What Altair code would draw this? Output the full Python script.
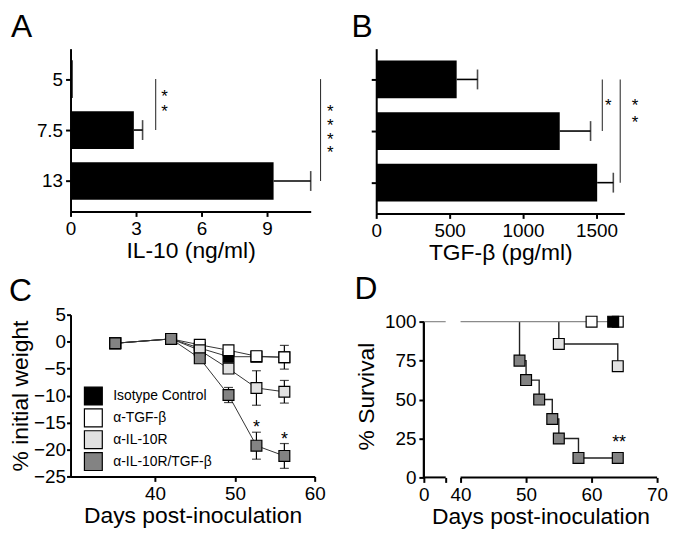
import json
import altair as alt
import pandas as pd

FONT = "Liberation Sans"

# ---------------- Panel A : IL-10 ----------------
A_GROUPS = ["5", "7.5", "13"]
A_VALUES = [0.1, 2.9, 9.3]
A_ERRORS = [0.0, 0.4, 1.7]
A_SIG_X = [3.9, 11.45]
A_SIG_FROM = [0, 0]
A_SIG_TO = [1, 2]
A_STAR_X = [4.3, 4.3, 11.9, 11.9, 11.9, 11.9]
A_STAR_Y = [0.25, 0.54, 0.55, 0.82, 1.09, 1.36]

# ---------------- Panel B : TGF-beta ----------------
B_VALUES = [548, 1250, 1505]
B_ERRORS = [142, 210, 110]
B_SIG_X = [1540, 1662]
B_SIG_FROM = [0, 0]
B_SIG_TO = [1, 2]
B_STAR_X = [1580, 1763, 1763]
B_STAR_Y = [0.42, 0.42, 0.75]

# ---------------- Panel C : weight ----------------
SERIES = ["Isotype Control", "α-TGF-β", "α-IL-10R", "α-IL-10R/TGF-β"]
COLORS = ["#000000", "#ffffff", "#e1e1e1", "#838383"]
C_DAYS = [35, 42, 45.6, 49.2, 52.7, 56.2]
C_ISO = [-0.3, 0.5, -1.2, -2.8, -2.8, -2.9]
C_TGF = [-0.3, 0.5, -0.6, -1.6, -2.7, -2.9]
C_IL10R = [-0.3, 0.5, -1.6, -5.0, -8.6, -9.3]
C_BOTH = [-0.3, 0.5, -3.1, -9.9, -19.3, -21.2]
C_ISO_ERR = [0, 0, 0, 0, 0, 0]
C_TGF_ERR = [0, 0, 0, 0.5, 0.6, 2.2]
C_IL10R_ERR = [0, 0, 0, 0.8, 3.2, 2.1]
C_BOTH_ERR = [0, 0, 0.5, 1.4, 2.5, 2.3]
C_STAR_DAYS = [52.7, 56.2]
C_STAR_Y = [-15.1, -17.3]

# ---------------- Panel D : survival ----------------
D_ISO_DAYS, D_ISO_SURV = [63.3], [100]
D_TGF_DAYS, D_TGF_SURV = [60, 64], [100, 100]
D_IL10R_DAYS, D_IL10R_SURV = [55, 64], [85.7, 71.4]
D_BOTH_DAYS = [49, 50, 52, 54, 55, 58, 64]
D_BOTH_SURV = [75, 62.5, 50, 37.5, 25, 12.5, 12.5]
D_BREAK_DOMAIN = [0, 24, 40, 70]      # broken axis: 0..24 | 40..70
D_BREAK_RANGE = [0, 22, 37, 235]
D_AXIS_SEGMENTS = [(0, 24), (40, 70)]
D_TOP_SEGMENTS = [(0, 24), (40, 64)]
D_Y_MAX = 104.5
D_STAR_X, D_STAR_Y, D_STAR = [64.2], [25.5], ["**"]


def panel_title(letter, dx, offset):
    return alt.TitleParams(text=letter, anchor="start", frame="group", dx=dx,
                           offset=offset, fontSize=32, font=FONT,
                           fontWeight="normal", baseline="alphabetic", color="black")


def bar_panel(values, errors, sig_x, sig_from, sig_to, star_x, star_y,
              xdomain, xticks, xtitle, ylabels, width, height, letter, dx, offset):
    df = pd.DataFrame({"idx": list(range(len(values))), "value": values,
                       "hi": [v + e for v, e in zip(values, errors)]})
    sig = pd.DataFrame({"x": sig_x, "y0": sig_from, "y1": sig_to})
    st = pd.DataFrame({"x": star_x, "y": star_y, "t": ["*"] * len(star_x)})
    yaxis = alt.Axis(values=list(range(len(values))), title=None,
                     labels=ylabels is not None, labelOverlap=False,
                     labelExpr=(json.dumps(ylabels) + "[datum.value]") if ylabels else "datum.label")
    xaxis = alt.Axis(values=xticks, title=xtitle, format="d", labelOverlap=False)
    xs = alt.Scale(domain=xdomain, nice=False)
    ys = alt.Scale(domain=[-0.5, len(values) - 0.5], reverse=True, nice=False, zero=False)

    def X(f):
        return alt.X(f, scale=xs, axis=xaxis)

    def Y(f):
        return alt.Y(f, scale=ys, axis=yaxis)

    bars = alt.Chart(df).mark_bar(orient="horizontal", size=38, color="black").encode(
        x=X("value:Q"), y=Y("idx:Q"))
    base_err = alt.Chart(df).transform_filter("datum.hi > datum.value")
    err = base_err.mark_rule(color="black", strokeWidth=1.6).encode(
        x=X("value:Q"), x2="hi:Q", y=Y("idx:Q"))
    caps = base_err.mark_tick(orient="vertical", size=20, thickness=1.6, color="black").encode(
        x=X("hi:Q"), y=Y("idx:Q"))
    lines = alt.Chart(sig).mark_rule(color="#333333", strokeWidth=1.1).encode(
        x=X("x:Q"), y=Y("y0:Q"), y2="y1:Q")
    txt = alt.Chart(st).mark_text(fontSize=17, font=FONT, baseline="middle", dy=5,
                                  color="black").encode(x=X("x:Q"), y=Y("y:Q"), text="t:N")
    return alt.layer(bars, err, caps, lines, txt).properties(
        width=width, height=height, title=panel_title(letter, dx, offset))


chart_a = bar_panel(A_VALUES, A_ERRORS, A_SIG_X, A_SIG_FROM, A_SIG_TO, A_STAR_X, A_STAR_Y,
                    [0, 11], [0, 3, 6, 9], "IL-10 (ng/ml)", A_GROUPS,
                    242, 164, "A", -60, -20)
chart_b = bar_panel(B_VALUES, B_ERRORS, B_SIG_X, B_SIG_FROM, B_SIG_TO, B_STAR_X, B_STAR_Y,
                    [0, 1690], [0, 500, 1000, 1500], "TGF-β (pg/ml)", None,
                    250, 166, "B", -25, -20)

# ---------------- Panel C ----------------
c_rows = []
for s, vals, errs in zip(SERIES, [C_ISO, C_TGF, C_IL10R, C_BOTH],
                         [C_ISO_ERR, C_TGF_ERR, C_IL10R_ERR, C_BOTH_ERR]):
    for d, v, e in zip(C_DAYS, vals, errs):
        c_rows.append({"series": s, "day": d, "w": v, "lo": v - e, "hi": v + e, "e": e})
c_df = pd.DataFrame(c_rows)
c_xs = alt.Scale(domain=[29.4, 60], nice=False, zero=False)
c_xa = alt.Axis(values=[40, 50, 60], title="Days post-inoculation", labelOverlap=False)
c_ys = alt.Scale(domain=[-25, 5], nice=False, zero=False)
c_ya = alt.Axis(values=[5, 0, -5, -10, -15, -20, -25], title="% initial weight",
                titlePadding=1, tickSize=4, labelPadding=1, labelOverlap=False)


def CX(f):
    return alt.X(f, scale=c_xs, axis=c_xa)


def CY(f):
    return alt.Y(f, scale=c_ys, axis=c_ya)


fill_c = alt.Fill("series:N", scale=alt.Scale(domain=SERIES, range=COLORS),
                  legend=alt.Legend(title=None, orient="none", legendX=13, legendY=72,
                                    symbolType="square", symbolSize=324,
                                    symbolStrokeColor="black", symbolStrokeWidth=1.2,
                                    labelFont=FONT, labelFontSize=14, labelColor="black",
                                    labelOffset=10, rowPadding=-2.5, padding=0,
                                    symbolOpacity=1))
c_err_base = alt.Chart(c_df).transform_filter("datum.e > 0")
c_err = c_err_base.mark_rule(color="black", strokeWidth=1.2).encode(
    x=CX("day:Q"), y=CY("lo:Q"), y2="hi:Q")
c_cap_lo = c_err_base.mark_tick(orient="horizontal", size=9, thickness=1.2, color="black").encode(
    x=CX("day:Q"), y=CY("lo:Q"))
c_cap_hi = c_err_base.mark_tick(orient="horizontal", size=9, thickness=1.2, color="black").encode(
    x=CX("day:Q"), y=CY("hi:Q"))
c_line = alt.Chart(c_df).mark_line(color="#333333", strokeWidth=1).encode(
    x=CX("day:Q"), y=CY("w:Q"), detail="series:N")
c_pts = alt.Chart(c_df).mark_square(size=120, stroke="black", strokeWidth=1.2, opacity=1).encode(
    x=CX("day:Q"), y=CY("w:Q"), fill=fill_c)
c_st = alt.Chart(pd.DataFrame({"day": C_STAR_DAYS, "w": C_STAR_Y, "t": ["*"] * len(C_STAR_DAYS)})
                 ).mark_text(fontSize=18, font=FONT, baseline="middle", dy=5, color="black").encode(
    x=CX("day:Q"), y=CY("w:Q"), text="t:N")
chart_c = alt.layer(c_line, c_err, c_cap_lo, c_cap_hi, c_pts, c_st).properties(
    width=246, height=163, title=panel_title("C", -62, -27))

# ---------------- Panel D ----------------
d_pts_rows, d_line_rows = [], []
d_sets = {SERIES[0]: (D_ISO_DAYS, D_ISO_SURV), SERIES[1]: (D_TGF_DAYS, D_TGF_SURV),
          SERIES[2]: (D_IL10R_DAYS, D_IL10R_SURV), SERIES[3]: (D_BOTH_DAYS, D_BOTH_SURV)}
draw_order = [SERIES[2], SERIES[3], SERIES[1], SERIES[0]]
k = 0
for s in draw_order:
    days, surv = d_sets[s]
    for d, v in zip(days, surv):
        d_pts_rows.append({"series": s, "day": d, "surv": v, "k": k})
        k += 1
for s in [SERIES[2], SERIES[3]]:
    days, surv = d_sets[s]
    pts = [(days[0], 100)] + list(zip(days, surv))
    for i, (d, v) in enumerate(pts):
        d_line_rows.append({"series": s, "day": d, "surv": v, "seq": i})
d_pts = pd.DataFrame(d_pts_rows)
d_lines = pd.DataFrame(d_line_rows)
d_xs = alt.Scale(domain=D_BREAK_DOMAIN, range=D_BREAK_RANGE, nice=False, zero=False)
d_xa = alt.Axis(values=[0, 24, 40, 50, 60, 70], domain=False, labelOverlap=False,
                labelExpr="datum.value == 24 ? '' : datum.label",
                title="Days post-inoculation")
d_ys = alt.Scale(domain=[0, D_Y_MAX], nice=False)
d_ya = alt.Axis(values=[0, 25, 50, 75, 100], title="% Survival", titlePadding=6,
                domain=False, labelOverlap=False)


def DX(f):
    return alt.X(f, scale=d_xs, axis=d_xa)


def DY(f):
    return alt.Y(f, scale=d_ys, axis=d_ya)


seg_df = pd.DataFrame({"day": [a for a, b in D_AXIS_SEGMENTS], "day2": [b for a, b in D_AXIS_SEGMENTS]})
top_df = pd.DataFrame({"day": [a for a, b in D_TOP_SEGMENTS], "day2": [b for a, b in D_TOP_SEGMENTS]})
d_step = alt.Chart(d_lines).mark_line(interpolate="step-after", color="#222222", strokeWidth=1.4).encode(
    x=DX("day:Q"), y=DY("surv:Q"), detail="series:N", order="seq:Q")
d_base = alt.Chart(seg_df).mark_rule(color="black", strokeWidth=2).encode(
    x=DX("day:Q"), x2="day2:Q", y=alt.datum(0, type="quantitative"))
d_yline = alt.Chart(seg_df).mark_rule(color="black", strokeWidth=2).encode(
    x=alt.datum(0), y=alt.datum(0), y2=alt.datum(100))
d_top = alt.Chart(top_df).mark_rule(color="#8a8a8a", strokeWidth=1.2).encode(
    x=DX("day:Q"), x2="day2:Q", y=alt.datum(100))
d_sq = alt.Chart(d_pts).mark_square(size=120, stroke="black", strokeWidth=1.2, opacity=1).encode(
    x=DX("day:Q"), y=DY("surv:Q"), order="k:Q",
    fill=alt.Fill("series:N", scale=alt.Scale(domain=SERIES, range=COLORS), legend=None))
d_st = alt.Chart(pd.DataFrame({"day": D_STAR_X, "surv": D_STAR_Y, "t": D_STAR})).mark_text(
    fontSize=18, font=FONT, baseline="middle", dy=5, color="black").encode(
    x=DX("day:Q"), y=DY("surv:Q"), text="t:N")
chart_d = alt.layer(d_step, d_base, d_yline, d_top, d_sq, d_st).properties(
    width=235, height=164, title=panel_title("D", -70, -18))

row1 = alt.hconcat(chart_a, chart_b, spacing=17).resolve_scale(x="independent", y="independent", fill="independent")
row2 = alt.hconcat(chart_c, chart_d, spacing=29).resolve_scale(x="independent", y="independent", fill="independent")
chart = alt.vconcat(row1, row2, spacing=9).resolve_scale(
    x="independent", y="independent", fill="independent"
).properties(padding={"left": 1, "top": 1, "right": 0, "bottom": 0},
             background="white").configure_view(stroke=None).configure_axis(
    domainColor="black", domainWidth=2, tickColor="black", tickWidth=2, tickSize=5,
    labelFont=FONT, labelFontSize=19, labelColor="black", labelPadding=3, labelOverlap=False,
    labelFlush=False,
    titleFont=FONT, titleFontSize=23, titleFontWeight="normal", titleColor="black",
    grid=False
).configure_axisX(titlePadding=1).configure_text(font=FONT)

chart.save("out.html", embed_options={"renderer": "svg", "actions": False})
